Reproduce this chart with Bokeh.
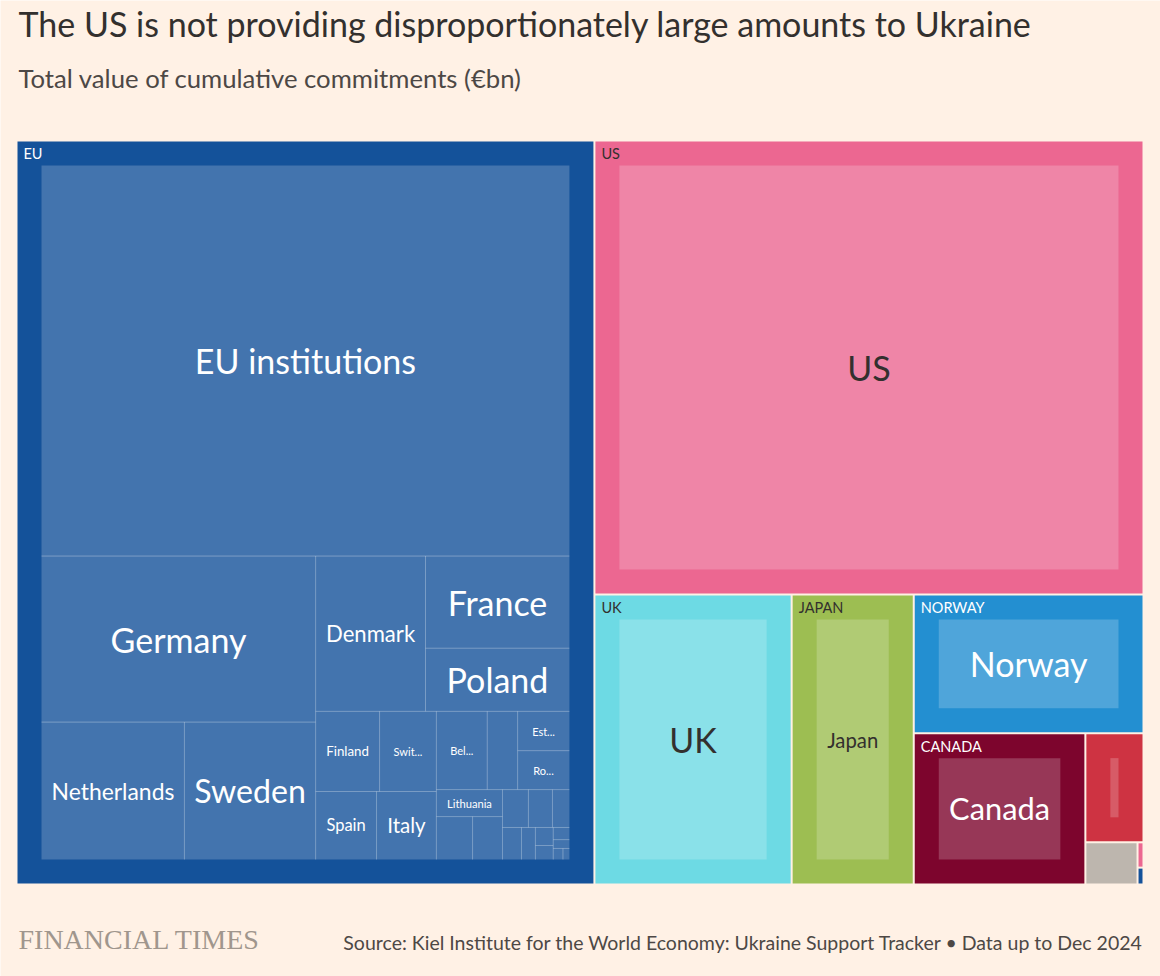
import numpy as np
from bokeh.plotting import figure
from bokeh.models import ColumnDataSource, Range1d, Label
from bokeh.core.properties import value
from bokeh.embed import file_html
from bokeh.resources import INLINE

# ---------------- data (EUR bn, cumulative commitments) ----------------
eu_members = ["EU institutions", "Germany", "Netherlands", "Sweden", "Denmark", "France", "Poland",
              "Finland", "Switzerland", "Spain", "Italy", "Belgium", "Czech Republic", "Estonia",
              "Romania", "Lithuania", "Latvia", "Austria", "Portugal", "Slovakia", "Ireland",
              "Luxembourg", "Greece", "Croatia", "Bulgaria", "Slovenia", "Hungary", "Cyprus", "Malta"]
eu_values = [115.5, 25.5, 11.0, 10.1, 9.56, 7.43, 5.09,
             2.87, 2.55, 2.32, 2.28, 2.23, 1.33, 1.14,
             1.13, 1.00, 0.87, 0.72, 0.55, 0.51, 0.36,
             0.34, 0.25, 0.18, 0.14, 0.11, 0.08, 0.06, 0.04]

other_donors = ["US", "UK", "Japan", "Norway", "Canada", "Australia", "Others", "New Zealand", "Iceland"]
other_values = [119.0, 27.3, 16.9, 15.2, 12.4, 3.03, 1.05, 0.072, 0.048]

title = "The US is not providing disproportionately large amounts to Ukraine"
subtitle = "Total value of cumulative commitments (\u20acbn)"
source = "Source: Kiel Institute for the World Economy: Ukraine Support Tracker \u2022 Data up to Dec 2024"

# ---------------- style ----------------
BG = "#FFF1E5"
INK = "#33302E"
GROUP_COLORS = {"EU": "#14529a", "US": "#ec6791", "UK": "#6ddae4", "Japan": "#9dbe52",
                "Norway": "#238fd1", "Canada": "#7d052d", "Australia": "#ce3342",
                "Others": "#bdb6ae", "New Zealand": "#ec6791", "Iceland": "#14529a"}
FONT = "Lato"
BOX = (17, 141, 1142, 883)      # treemap extent on the page (px)
GAP = 2                          # white gap between groups
PAD = 24                         # group padding around its children
BASE = 0.42                      # alphabetic-baseline correction (em)

CW = {}
for c, w in zip("ABCDEFGHIJKLMNOPQRSTUVWXYZ",
                [.68, .64, .66, .74, .55, .53, .72, .75, .29, .39, .65, .49, .89, .75, .79, .6, .79, .62,
                 .53, .58, .72, .67, 1.0, .64, .61, .6]):
    CW[c] = w
for c, w in zip("abcdefghijklmnopqrstuvwxyz",
                [.49, .55, .45, .55, .51, .32, .5, .55, .24, .24, .5, .24, .83, .55, .55, .55, .55, .36,
                 .42, .34, .55, .49, .75, .48, .49, .44]):
    CW[c] = w
CW[" "] = .26
CW["."] = .25


def em_width(s):
    return sum(CW.get(c, .55) for c in s)


def binary_tile(vals, x0, y0, x1, y1):
    n = len(vals)
    sums = np.concatenate([[0.0], np.cumsum(vals)])
    rects = [None] * n

    def part(i, j, v, x0, y0, x1, y1):
        if i >= j - 1:
            rects[i] = (x0, y0, x1, y1)
            return
        off = sums[i]
        target = v / 2 + off
        k, hi = i + 1, j - 1
        while k < hi:
            mid = (k + hi) // 2
            if sums[mid] < target:
                k = mid + 1
            else:
                hi = mid
        if (target - sums[k - 1]) < (sums[k] - target) and i + 1 < k:
            k -= 1
        vl = sums[k] - off
        vr = v - vl
        if (x1 - x0) > (y1 - y0):
            xk = (x0 * vr + x1 * vl) / v
            part(i, k, vl, x0, y0, xk, y1)
            part(k, j, vr, xk, y0, x1, y1)
        else:
            yk = (y0 * vr + y1 * vl) / v
            part(i, k, vl, x0, y0, x1, yk)
            part(k, j, vr, x0, yk, x1, y1)

    part(0, n, sums[-1], x0, y0, x1, y1)
    return rects


def shrink(r, d):
    x0, y0, x1, y1 = r[0] + d, r[1] + d, r[2] - d, r[3] - d
    if x1 < x0:
        x0 = x1 = (x0 + x1) / 2
    if y1 < y0:
        y0 = y1 = (y0 + y1) / 2
    return (x0, y0, x1, y1)


def text_color(hexcol):
    r, g, b = int(hexcol[1:3], 16), int(hexcol[3:5], 16), int(hexcol[5:7], 16)
    return INK if 0.299 * r + 0.587 * g + 0.114 * b > 135 else "#ffffff"


def fit_label(name, w, h):
    avail = w - 22
    if avail <= 0 or h < 20:
        return None
    f = min(34.0, avail / em_width(name), h * 0.55)
    if f >= 10.5:
        return name, f
    for k in range(len(name) - 1, 1, -1):
        t = name[:k].rstrip() + "..."
        if em_width(t) * 12.5 <= avail:
            return t, 11.0
    return None


# ---------------- hierarchy & layout ----------------
groups = [("EU", eu_members, eu_values)] + [(d, [d], [v]) for d, v in zip(other_donors, other_values)]
groups.sort(key=lambda g: -sum(g[2]))
totals = [sum(g[2]) for g in groups]

h = GAP / 2
root_rects = binary_tile(totals, BOX[0] - h, BOX[1] - h, BOX[2] + h, BOX[3] + h)

G = dict(left=[], right=[], top=[], bottom=[], color=[])
C = dict(left=[], right=[], top=[], bottom=[])
S = dict(x0=[], y0=[], x1=[], y1=[])
GL = dict(x=[], y=[], text=[], color=[])
CL = dict(x=[], y=[], text=[], color=[], size=[])
GL_SIZE = 14.5

for (gname, members, vals), rr in zip(groups, root_rects):
    gx0, gy0, gx1, gy1 = shrink(rr, h)
    col = GROUP_COLORS[gname]
    tcol = text_color(col)
    G["left"].append(gx0); G["right"].append(gx1); G["top"].append(gy0); G["bottom"].append(gy1)
    G["color"].append(col)
    glabel = gname.upper()
    if em_width(glabel) * GL_SIZE + 12 <= gx1 - gx0 and gy1 - gy0 >= 30:
        GL["x"].append(gx0 + 6); GL["y"].append(gy0 + 18.5 - BASE * GL_SIZE)
        GL["text"].append(glabel); GL["color"].append(tcol)
    inner = shrink((gx0, gy0, gx1, gy1), PAD)
    order = np.argsort(-np.asarray(vals), kind="stable")
    crs = binary_tile([vals[i] for i in order], *inner)
    for i, cr in zip(order, crs):
        x0, y0, x1, y1 = cr
        if x1 - x0 <= 0 or y1 - y0 <= 0:
            continue
        C["left"].append(x0); C["right"].append(x1); C["top"].append(y0); C["bottom"].append(y1)
        if len(members) > 1:
            if x1 < inner[2] - 0.5:
                S["x0"].append(x1); S["y0"].append(y0); S["x1"].append(x1); S["y1"].append(y1)
            if y1 < inner[3] - 0.5:
                S["x0"].append(x0); S["y0"].append(y1); S["x1"].append(x1); S["y1"].append(y1)
        lab = fit_label(members[i], x1 - x0, y1 - y0)
        if lab:
            CL["x"].append((x0 + x1) / 2); CL["y"].append((y0 + y1) / 2)
            CL["text"].append(lab[0]); CL["size"].append(f"{lab[1]:.1f}px"); CL["color"].append(tcol)

# ---------------- figure ----------------
W, H = 1160, 976
p = figure(width=W, height=H, x_range=Range1d(0, W), y_range=Range1d(H, 0),
           output_backend="svg", toolbar_location=None, min_border=0,
           x_axis_location=None, y_axis_location=None)
p.grid.visible = False
p.outline_line_color = None
p.background_fill_color = BG
p.border_fill_color = BG

p.quad(left="left", right="right", top="top", bottom="bottom", fill_color="color",
       line_color=None, source=ColumnDataSource(G))
p.quad(left="left", right="right", top="top", bottom="bottom", fill_color="white", fill_alpha=0.2,
       line_color=None, source=ColumnDataSource(C))
p.segment(x0="x0", y0="y0", x1="x1", y1="y1", line_color="white", line_alpha=0.3, line_width=1,
          source=ColumnDataSource(S))
p.text(x="x", y="y", text="text", text_color="color", text_font=value(FONT), text_font_size=f"{GL_SIZE}px",
       text_align="left", text_baseline="alphabetic", source=ColumnDataSource(GL))
p.text(x="x", y="y", text="text", text_color="color", text_font=value(FONT), text_font_size="size",
       text_align="center", text_baseline="middle", source=ColumnDataSource(CL))


def add_label(x, baseline, text, font, size, color, align="left"):
    p.add_layout(Label(x=x, y=baseline - BASE * size, text=text, text_font=font, text_font_size=f"{size}px",
                       text_color=color, text_align=align, text_baseline="alphabetic"))


add_label(18, 37, title, FONT, 34, INK)
add_label(18, 88, subtitle, FONT, 25.7, "#4d4845")
add_label(18, 951, "FINANCIAL TIMES", "Liberation Serif", 28, "#a0968d")
add_label(1143, 950, source, FONT, 19.5, "#4d4845", align="right")

open("out.html", "w").write(file_html(p, INLINE))
